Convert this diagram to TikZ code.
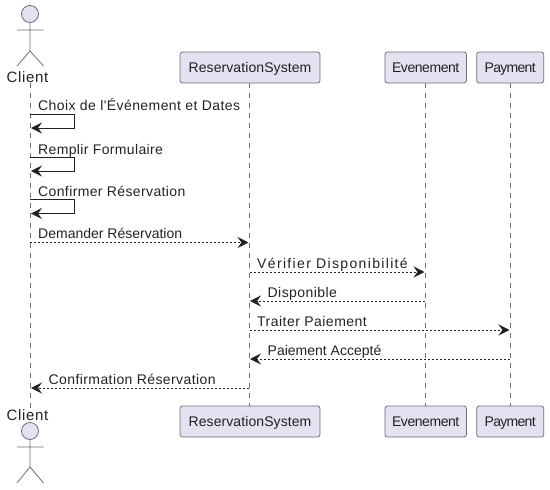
\documentclass[tikz,border=0pt]{standalone}
\usepackage{fontspec}
\setmainfont{Liberation Sans}[Ligatures=TeXOff]
\usetikzlibrary{arrows.meta}
\definecolor{pfill}{HTML}{E2E2F0}
\definecolor{pline}{HTML}{6E6E7A}
\definecolor{ink}{HTML}{222222}
\newcommand{\spaced}[2]{{\addfontfeature{LetterSpace=#1}#2}}
\tikzset{
  x=1pt,y=-1pt,
  partbox/.style={draw=pline,fill=pfill,rounded corners=2.5pt,line width=.8pt,minimum height=31pt,inner sep=0pt,text height=12pt,text depth=3pt,text=ink,font=\fontsize{14}{16}\selectfont},
  lifeline/.style={draw=pline,line width=.8pt,dash pattern=on 5pt off 5pt},
  msgsolid/.style={draw=ink,line width=1pt,-{Stealth[length=11pt,width=11pt,inset=4pt]}},
  msgdot/.style={draw=ink,line width=1pt,dash pattern=on 2pt off 2pt,-{Stealth[length=11pt,width=11pt,inset=4pt]}},
  msglabel/.style={anchor=base west,inner sep=0pt,text=ink,font=\fontsize{14}{16}\selectfont},
  actorname/.style={inner sep=0pt,text=ink,font=\fontsize{15}{17}\selectfont},
  actorhead/.style={circle,draw=pline,fill=pfill,line width=.8pt,minimum size=17pt,inner sep=0pt},
  actorline/.style={draw=pline,line width=.8pt}
}
\begin{document}
\begin{tikzpicture}
\useasboundingbox (0,0) rectangle (550,490);
% anchors
\coordinate (cT) at (30,83); \coordinate (cB) at (30,408);
\coordinate (rT) at (249.5,83); \coordinate (rB) at (249.5,406);
\coordinate (eT) at (425.5,83); \coordinate (eB) at (425.5,406);
\coordinate (pT) at (510.5,83); \coordinate (pB) at (510.5,406);
% lifelines
\draw[lifeline] (cT) -- (cB);
\draw[lifeline] (rT) -- (rB);
\draw[lifeline] (eT) -- (eB);
\draw[lifeline] (pT) -- (pB);
% top actor
\node[actorhead] (h1) at (30,14) {};
\coordinate (b1) at (30,51);
\coordinate (s1l) at (17,30); \coordinate (s1r) at (43.5,30);
\coordinate (l1l) at (17,66); \coordinate (l1r) at (43.5,66);
\draw[actorline] (h1) -- (b1) (s1l) -- (s1r) (l1l) -- (b1) -- (l1r);
\node[actorname] (c1) at (27.5,77) {\spaced{4.5}{Client}};
% bottom actor
\node[actorhead] (h2) at (30,431) {};
\coordinate (b2) at (30,467);
\coordinate (s2l) at (17,447); \coordinate (s2r) at (43.5,447);
\coordinate (l2l) at (17,483); \coordinate (l2r) at (43.5,483);
\draw[actorline] (h2) -- (b2) (s2l) -- (s2r) (l2l) -- (b2) -- (l2r);
\node[actorname] (c2) at (27.5,415) {\spaced{4.5}{Client}};
% participants
\node[partbox,minimum width=140pt] (r1) at (250,67.5) {\spaced{0.6}{ReservationSystem}};
\node[partbox,minimum width=81.5pt] (e1) at (425.7,67.5) {\spaced{-3.1}{Evenement}};
\node[partbox,minimum width=67pt] (p1) at (510.2,67.5) {\spaced{-5}{Payment}};
\node[partbox,minimum width=140pt] (r2) at (250,421.5) {\spaced{0.6}{ReservationSystem}};
\node[partbox,minimum width=81.5pt] (e2) at (425.7,421.5) {\spaced{-3.1}{Evenement}};
\node[partbox,minimum width=67pt] (p2) at (510.2,421.5) {\spaced{-5}{Payment}};
% self messages
\coordinate (a1) at (30,114); \coordinate (a2) at (74,114); \coordinate (a3) at (74,128); \coordinate (a4) at (31,128);
\draw[msgsolid] (a1) -- (a2) -- (a3) -- (a4);
\coordinate (d1) at (30,157); \coordinate (d2) at (74,157); \coordinate (d3) at (74,171); \coordinate (d4) at (31,171);
\draw[msgsolid] (d1) -- (d2) -- (d3) -- (d4);
\coordinate (f1) at (30,199.5); \coordinate (f2) at (74,199.5); \coordinate (f3) at (74,213.5); \coordinate (f4) at (31,213.5);
\draw[msgsolid] (f1) -- (f2) -- (f3) -- (f4);
% other messages
\coordinate (m1a) at (30,242.5); \coordinate (m1b) at (248.5,242.5);
\draw[msgdot] (m1a) -- (m1b);
\coordinate (m2a) at (249.5,272); \coordinate (m2b) at (424.5,272);
\draw[msgdot] (m2a) -- (m2b);
\coordinate (m3a) at (425,301); \coordinate (m3b) at (250,301);
\draw[msgdot] (m3a) -- (m3b);
\coordinate (m4a) at (249.5,330); \coordinate (m4b) at (509.5,330);
\draw[msgdot] (m4a) -- (m4b);
\coordinate (m5a) at (510,359); \coordinate (m5b) at (250,359);
\draw[msgdot] (m5a) -- (m5b);
\coordinate (m6a) at (249,388); \coordinate (m6b) at (31,388);
\draw[msgdot] (m6a) -- (m6b);
% labels
\node[msglabel] (t1) at (38,110.7) {\spaced{3}{Choix de l'Événement et Dates}};
\node[msglabel] (t2) at (38,154.2) {\spaced{2.6}{Remplir Formulaire}};
\node[msglabel] (t3) at (38,196.2) {\spaced{2.7}{Confirmer Réservation}};
\node[msglabel] (t4) at (38,238.7) {Demander Réservation};
\node[msglabel] (t5) at (257,268.2) {\spaced{9.6}{Vérifier Disponibilité}};
\node[msglabel] (t6) at (267.5,297.2) {\spaced{3}{Disponible}};
\node[msglabel] (t7) at (257,326.2) {\spaced{3.4}{Traiter Paiement}};
\node[msglabel] (t8) at (267.5,355.2) {Paiement Accepté};
\node[msglabel] (t9) at (48.5,384.7) {\spaced{2.9}{Confirmation Réservation}};
\end{tikzpicture}
\end{document}
